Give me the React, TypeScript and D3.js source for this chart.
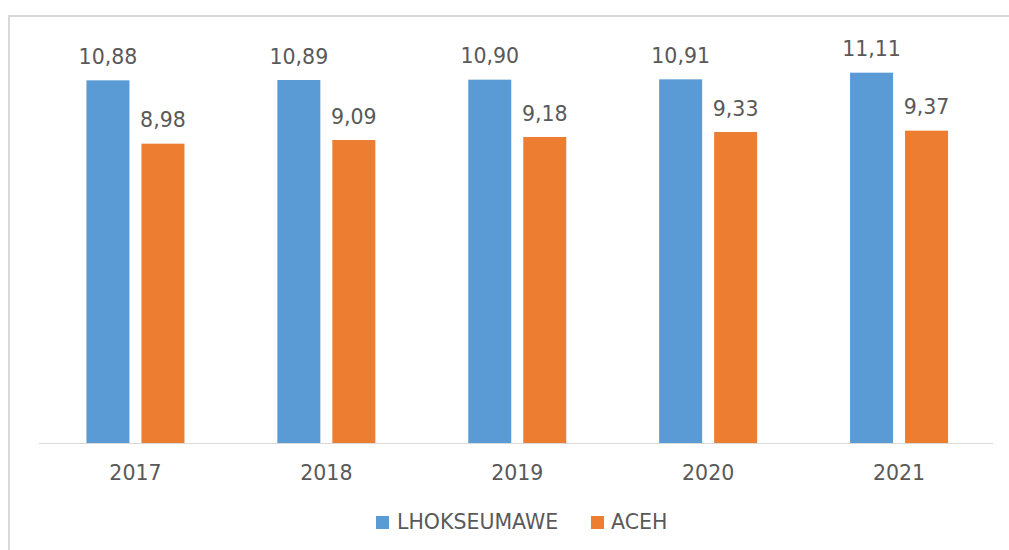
import React from "react";
import * as d3 from "d3";

const years = ["2017", "2018", "2019", "2020", "2021"];
const lhokseumawe = [10.88, 10.89, 10.9, 10.91, 11.11];
const aceh = [8.98, 9.09, 9.18, 9.33, 9.37];
const seriesNames = ["LHOKSEUMAWE", "ACEH"];
const colors = ["#5B9BD5", "#ED7D31"];

const W = 1009;
const H = 550;
const plotLeft = 39;
const plotRight = 993;
const baseY = 443;
const topY = 43;
const FONT = "'DejaVu Sans', sans-serif";
const textColor = "#595959";

export default function App() {
  const x = d3.scaleBand<string>().domain(years).range([plotLeft + 1, plotRight + 1.5]);
  const y = d3.scaleLinear().domain([0, 12]).range([baseY, topY]);
  const barW = 43;
  const gap = 12;
  const fmt = (v: number) => v.toFixed(2).replace(".", ",");
  const series = [lhokseumawe, aceh];

  return (
    <svg
      width={W}
      height={H}
      style={{ position: "absolute", left: 0, top: 0, background: "#fff" }}
      fontFamily={FONT}
    >
      <rect x={0} y={0} width={W} height={H} fill="#fff" />
      <path d={`M9,${H} L9,16 L${W},16`} fill="none" stroke="#d9d9d9" strokeWidth={2} />
      <line x1={plotLeft} x2={plotRight} y1={baseY + 0.5} y2={baseY + 0.5} stroke="#d9d9d9" strokeWidth={1} />
      {years.map((yr, i) => {
        const cx = (x(yr) as number) + x.bandwidth() / 2;
        const groupLeft = cx - (2 * barW + gap) / 2;
        return (
          <g key={yr}>
            {series.map((s, j) => {
              const bx = groupLeft + j * (barW + gap);
              const by = y(s[i]);
              return (
                <g key={j}>
                  <rect x={bx} y={by} width={barW} height={baseY - by} fill={colors[j]} />
                  <text
                    x={bx + barW / 2}
                    y={by - 16.5}
                    textAnchor="middle"
                    fontSize={20.5}
                    fill={textColor}
                  >
                    {fmt(s[i])}
                  </text>
                </g>
              );
            })}
            <text x={cx} y={480} textAnchor="middle" fontSize={20.5} fill={textColor}>
              {yr}
            </text>
          </g>
        );
      })}
      <g>
        <rect x={376} y={516} width={13} height={13} fill={colors[0]} />
        <text x={397} y={529} fontSize={20.5} fill={textColor}>
          {seriesNames[0]}
        </text>
        <rect x={591} y={516} width={13} height={13} fill={colors[1]} />
        <text x={611} y={529} fontSize={20.5} fill={textColor}>
          {seriesNames[1]}
        </text>
      </g>
    </svg>
  );
}
